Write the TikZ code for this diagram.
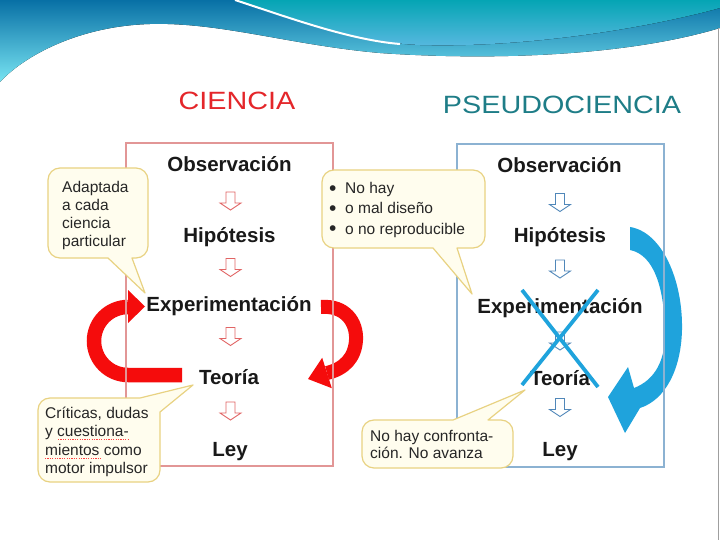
\documentclass[tikz,border=0pt]{standalone}
\usepackage{fontspec}
\setmainfont{Liberation Sans}
\newfontfamily\titlefont[FakeStretch=1.15]{Liberation Sans}
\definecolor{cred}{RGB}{228,38,42}
\definecolor{cteal}{RGB}{30,125,135}
\definecolor{arrred}{RGB}{245,12,12}
\definecolor{arrblue}{RGB}{31,163,220}
\definecolor{boxred}{RGB}{226,150,150}
\definecolor{boxblue}{RGB}{140,178,210}
\definecolor{bubfill}{RGB}{255,253,238}
\definecolor{bubline}{RGB}{232,210,130}
\definecolor{sared}{RGB}{225,100,100}
\definecolor{sablue}{RGB}{80,135,185}
\definecolor{bandtop}{RGB}{8,112,165}
\definecolor{bandbot}{RGB}{120,228,242}
\definecolor{tealtop}{RGB}{5,165,180}
\definecolor{tealbot}{RGB}{90,185,225}
\newcommand{\bul}{\makebox[16pt][l]{\raisebox{-1.8pt}{\fontsize{21}{20}\selectfont •}}}
\begin{document}
\begin{tikzpicture}[x=1pt,y=1pt,
  lbl/.style={font=\bfseries\fontsize{20.5}{24}\selectfont, anchor=base, inner sep=0, text=black!90},
  ttl/.style={font=\titlefont\fontsize{25}{30}\selectfont, anchor=base, inner sep=0},
  bubble/.style={draw=bubline, fill=bubfill, line width=1.2pt, line join=round},
  bubtext/.style={anchor=base west, inner sep=0, text=black!85},
  redarr/.style={draw=arrred, line width=14.5pt},
  smallarr/.pic={\path[pic actions] (-4.5,9) -- (4.5,9) -- (4.5,-2) -- (10.5,-2) -- (0,-9) -- (-10.5,-2) -- (-4.5,-2) -- cycle;},
  sared/.style={draw=sared, fill=white, line width=0.9pt, line join=miter},
  sablue/.style={draw=sablue, fill=white, line width=0.9pt, line join=miter},
  xline/.style={draw=arrblue, line width=3.8pt}
]
\useasboundingbox (0,0) rectangle (720,-540);
\fill[white] (0,0) rectangle (720,-540);
% top band
\fill[top color=bandtop, bottom color=bandbot] (0,0) -- (720,0) -- (720,-28)
  .. controls (620,-58) and (480,-60) .. (380,-53)
  .. controls (290,-45) and (220,-22) .. (150,-24)
  .. controls (80,-26) and (25,-55) .. (0,-82) -- cycle;
\fill[top color=tealtop, bottom color=tealbot] (235,0) .. controls (290,-18) and (350,-42) .. (420,-45)
  .. controls (520,-48) and (640,-30) .. (720,-8) -- (720,0) -- cycle;
\draw[white, line width=2pt] (235,0) .. controls (290,-18) and (350,-40) .. (400,-44);
\draw[gray!75, line width=1pt] (718,-28) -- (718,-540);

% titles
\node[ttl, text=cred] (tc) at (237,-110) {CIENCIA};
\node[ttl, text=cteal] (tp) at (562,-114) {PSEUDOCIENCIA};

% red cycle arrows
\draw[redarr] (182,-375) -- (128,-375) arc[start angle=270, end angle=90, radius=34];
\fill[arrred] (128,-290) -- (145,-306.5) -- (128,-323) -- cycle;
\draw[redarr, line width=14pt] (321,-307) .. controls (345,-305) and (357,-322) .. (356,-340)
  .. controls (355,-358) and (344,-369) .. (327,-373);
\fill[arrred] (331.8,-388.2) -- (308,-379) -- (322.2,-357.8) -- cycle;

% blue arrow
\fill[arrblue] (630,-227) .. controls (662,-232) and (683,-280) .. (682,-330)
  .. controls (681,-370) and (665,-400) .. (640,-408) -- (625,-433) -- (608,-397) -- (628,-367)
  -- (634,-388) .. controls (655,-380) and (666,-360) .. (665,-330)
  .. controls (664,-290) and (655,-255) .. (630,-250) -- cycle;

% boxes
\draw[boxred, line width=1.5pt] (126,-143) rectangle (333,-466);
\draw[boxblue, line width=1.5pt] (457,-144) rectangle (664,-467);

% left column
\node[lbl] (lobs) at (229.5,-171.5) {Observación};
\pic[sared] at (230.5,-201) {smallarr};
\node[lbl] (lhip) at (229.5,-242) {Hipótesis};
\pic[sared] at (230.5,-267.5) {smallarr};
\node[lbl] (lexp) at (229,-311.5) {Experimentación};
\pic[sared] at (230.5,-336.5) {smallarr};
\node[lbl] (lteo) at (229,-384.5) {Teoría};
\pic[sared] at (230.5,-411) {smallarr};
\node[lbl] (lley) at (230,-456) {Ley};

% right column
\node[lbl] (robs) at (559.5,-172.5) {Observación};
\pic[sablue] at (560,-202.5) {smallarr};
\node[lbl] (rhip) at (560,-243) {Hipótesis};
\pic[sablue] at (560,-269) {smallarr};
\node[lbl] (rexp) at (560,-313.5) {Experimentación};
\pic[sablue] at (560,-341) {smallarr};
\node[lbl] (rteo) at (560,-385.5) {Teoría};
\pic[sablue] at (560,-407.5) {smallarr};
\node[lbl] (rley) at (560,-456) {Ley};

% blue cross
\draw[xline] (522,-290) -- (598,-387);
\draw[xline] (598,-290) -- (522,-385);

% bubbles
\draw[bubble] (132,-258) -- (145,-293) -- (108,-258) -- (60,-258)
  arc[start angle=270, end angle=180, radius=12] -- (48,-180)
  arc[start angle=180, end angle=90, radius=12] -- (136,-168)
  arc[start angle=90, end angle=0, radius=12] -- (148,-246)
  arc[start angle=0, end angle=-90, radius=12] -- cycle;
\node[bubtext] (b1) at (62,-193) {\parbox[t]{90pt}{\raggedright\fontsize{15.5}{18}\selectfont Adaptada\\a cada\\ciencia\\particular}};

\draw[bubble] (457,-248) -- (472,-294) -- (433,-248) -- (334,-248)
  arc[start angle=270, end angle=180, radius=12] -- (322,-182)
  arc[start angle=180, end angle=90, radius=12] -- (473,-170)
  arc[start angle=90, end angle=0, radius=12] -- (485,-236)
  arc[start angle=0, end angle=-90, radius=12] -- cycle;
\node[bubtext] (b2) at (329,-194) {\parbox[t]{150pt}{\raggedright\fontsize{15.5}{20}\selectfont
  \bul No hay\\\bul o mal diseño\\\bul o no reproducible}};

\draw[bubble] (140,-398) -- (193,-385) -- (160,-412) -- (160,-470)
  arc[start angle=0, end angle=-90, radius=12] -- (50,-482)
  arc[start angle=270, end angle=180, radius=12] -- (38,-410)
  arc[start angle=180, end angle=90, radius=12] -- cycle;
\node[bubtext] (b3) at (45,-418) {\parbox[t]{115pt}{\raggedright\fontsize{15.5}{18.5}\selectfont Críticas, dudas\\y cuestiona-\\mientos como\\motor impulsor}};
\draw[red!75, line width=0.7pt, dash pattern=on 1.2pt off 1.2pt] (58,-439.5) -- (128,-439.5);
\draw[red!75, line width=0.7pt, dash pattern=on 1.2pt off 1.2pt] (45,-458) -- (102,-458);

\draw[bubble] (453,-420) -- (525,-390) -- (488,-420) -- (501,-420)
  arc[start angle=90, end angle=0, radius=12] -- (513,-456)
  arc[start angle=0, end angle=-90, radius=12] -- (374,-468)
  arc[start angle=270, end angle=180, radius=12] -- (362,-432)
  arc[start angle=180, end angle=90, radius=12] -- cycle;
\node[bubtext] (b4) at (370,-441) {\parbox[t]{140pt}{\raggedright\fontsize{15.5}{17.5}\selectfont No hay confronta-\\ción. No avanza}};
\end{tikzpicture}
\end{document}
